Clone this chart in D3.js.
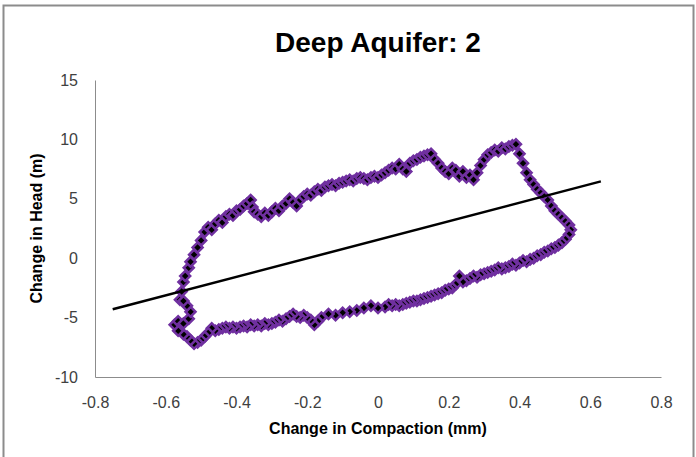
<!DOCTYPE html>
<html>
<head>
<meta charset="utf-8">
<script src="https://cdn.jsdelivr.net/npm/d3@7"></script>
<style>
  body { margin: 0; background: #fff; }
  text { font-family: "Liberation Sans", Arial, sans-serif; }
  .tick text { fill: #404040; font-size: 16px; }
  .axis-title { font-weight: bold; font-size: 16px; fill: #000; }
</style>
</head>
<body>
<svg id="chart"></svg>
<script>
const compaction = [
  -0.56, -0.555, -0.55, -0.545, -0.535, -0.53, -0.52, -0.51, -0.5, -0.49, -0.48, -0.47, -0.46, -0.45, -0.44,
  -0.43, -0.42, -0.41, -0.4, -0.39, -0.38, -0.37, -0.36, -0.355, -0.35, -0.34, -0.33, -0.32, -0.31, -0.3,
  -0.29, -0.28, -0.27, -0.26, -0.25, -0.24, -0.23, -0.22, -0.21, -0.2, -0.19, -0.18, -0.17, -0.16, -0.15,
  -0.14, -0.13, -0.12, -0.11, -0.1, -0.09, -0.08, -0.07, -0.06, -0.05, -0.04, -0.03, -0.02, -0.01, 0.0,
  0.01, 0.02, 0.03, 0.04, 0.05, 0.06, 0.07, 0.08, 0.09, 0.1, 0.11, 0.12, 0.13, 0.14, 0.15,
  0.16, 0.17, 0.18, 0.19, 0.2, 0.21, 0.22, 0.23, 0.24, 0.25, 0.26, 0.27, 0.28, 0.29, 0.3,
  0.31, 0.32, 0.33, 0.34, 0.35, 0.36, 0.37, 0.38, 0.39, 0.4, 0.41, 0.42, 0.43, 0.44, 0.45,
  0.46, 0.47, 0.48, 0.49, 0.5, 0.51, 0.52, 0.53, 0.54, 0.545, 0.54, 0.53,
  0.52, 0.51, 0.5, 0.49, 0.48, 0.47, 0.46, 0.45, 0.44, 0.43, 0.42, 0.41, 0.4, 0.39, 0.38,
  0.37, 0.36, 0.35, 0.34, 0.33, 0.32, 0.31, 0.3, 0.29, 0.28, 0.27, 0.26, 0.25, 0.24, 0.23,
  0.22, 0.21, 0.2, 0.19, 0.18, 0.17, 0.16, 0.15, 0.14, 0.13, 0.12, 0.11, 0.1, 0.09, 0.08,
  0.07, 0.06, 0.05, 0.04, 0.03, 0.02, 0.0, -0.02, -0.04, -0.06, -0.08, -0.1, -0.12, -0.14, -0.16,
  -0.17, -0.18, -0.19, -0.2, -0.21, -0.22, -0.23, -0.24, -0.25, -0.26, -0.27, -0.28, -0.29, -0.3, -0.31,
  -0.32, -0.33, -0.34, -0.35, -0.36, -0.37, -0.38, -0.39, -0.4, -0.41, -0.42, -0.43, -0.44, -0.45, -0.46,
  -0.47, -0.48, -0.49, -0.5, -0.51, -0.52, -0.53, -0.54, -0.55, -0.565, -0.575, -0.565, -0.55, -0.535, -0.53,
  -0.54, -0.55
];
const headChange = [
  -3.5, -2.8, -2.0, -1.5, -0.8, -0.3, 0.3, 0.9, 1.5, 2.2, 2.6, 2.4, 2.9, 3.2, 3.0,
  3.5, 3.7, 3.6, 4.0, 4.1, 4.4, 4.6, 4.9, 4.3, 3.9, 3.7, 3.5, 3.8, 3.6, 3.9,
  4.2, 4.0, 4.4, 4.6, 5.0, 4.7, 4.4, 4.9, 5.2, 5.4, 5.3, 5.6, 5.8, 5.7, 6.0,
  6.1, 6.2, 6.1, 6.3, 6.4, 6.5, 6.6, 6.5, 6.7, 6.8, 6.7, 6.6, 6.8, 6.9, 6.8,
  7.0, 7.2, 7.4, 7.6, 7.5, 7.9, 7.5, 7.3, 8.0, 8.2, 8.3, 8.5, 8.6, 8.7, 8.8,
  8.3, 8.0, 7.6, 7.3, 7.1, 7.6, 7.4, 6.9, 7.3, 6.8, 7.0, 6.6, 7.2, 7.8, 8.3,
  8.7, 8.9, 9.1, 9.0, 9.3, 9.2, 9.4, 9.5, 9.6, 8.8, 8.0, 7.2, 6.6, 6.2, 5.8,
  5.5, 5.2, 4.9, 4.4, 4.0, 3.7, 3.4, 3.1, 2.8, 2.4, 2.0, 1.6,
  1.3, 1.1, 0.9, 0.8, 0.6, 0.5, 0.3, 0.2, 0.0, -0.1, -0.3, -0.2, -0.4, -0.6, -0.5,
  -0.7, -0.8, -0.9, -0.8, -1.0, -1.1, -1.2, -1.3, -1.4, -1.6, -1.5, -1.7, -1.9, -2.0, -1.5,
  -2.2, -2.5, -2.6, -2.7, -2.9, -3.0, -3.1, -3.2, -3.3, -3.4, -3.5, -3.6, -3.6, -3.7, -3.8,
  -3.9, -4.0, -3.9, -4.0, -3.9, -4.1, -4.2, -4.0, -4.2, -4.4, -4.5, -4.6, -4.8, -4.7, -5.0,
  -5.3, -5.6, -5.2, -5.0, -4.8, -5.0, -4.9, -4.7, -4.9, -5.1, -5.3, -5.2, -5.4, -5.5, -5.6,
  -5.5, -5.7, -5.6, -5.7, -5.6, -5.8, -5.7, -5.8, -5.9, -5.8, -5.9, -5.8, -5.9, -6.0, -6.1,
  -5.9, -6.3, -6.6, -6.9, -7.1, -7.2, -6.9, -6.6, -6.4, -6.1, -5.6, -5.3, -5.5, -5.1, -4.5,
  -4.0, -3.6
];

// linear trendline
const trendSlope = 7.8;
const trendIntercept = 1.55;
const trendRange = [-0.75, 0.63];

const xTicks = [-0.8, -0.6, -0.4, -0.2, 0, 0.2, 0.4, 0.6, 0.8];
const yTicks = [-10, -5, 0, 5, 10, 15];

const chartTitle = "Deep Aquifer: 2";
const xTitle = "Change in Compaction (mm)";
const yTitle = "Change in Head (m)";

const W = 696, H = 457;
const margin = {top: 80, right: 35, bottom: 80, left: 95};
const width = W - margin.left - margin.right;
const height = H - margin.top - margin.bottom;

const svg = d3.select('#chart').attr('width', W).attr('height', H);

// outer frame
svg.append('rect')
    .attr('x', 3.5).attr('y', 5.5)
    .attr('width', 690).attr('height', 470)
    .attr('fill', 'none')
    .attr('stroke', '#8c8c8c')
    .attr('stroke-width', 2);

const chart = svg.append('g')
    .attr('transform', `translate(${margin.left},${margin.top})`);

const xScale = d3.scaleLinear().domain([-0.8, 0.8]).range([0, width]);
const yScale = d3.scaleLinear().domain([-10, 15]).range([height, 0]);

// excel style labels: plain hyphen for negatives
const fmtX = d => d === 0 ? '0' : d.toFixed(1);

const xAxis = d3.axisBottom(xScale)
    .tickValues(xTicks)
    .tickSize(0)
    .tickPadding(20)
    .tickFormat(fmtX);

const yAxis = d3.axisLeft(yScale)
    .tickValues(yTicks)
    .tickSize(0)
    .tickPadding(17)
    .tickFormat(d => String(d));

chart.append('g')
    .attr('class', 'axis x-axis')
    .attr('transform', `translate(0,${height})`)
    .call(xAxis)
    .call(g => g.select('.domain').attr('stroke', '#8c8c8c'));

chart.append('g')
    .attr('class', 'axis y-axis')
    .call(yAxis)
    .call(g => g.select('.domain').attr('stroke', '#8c8c8c'));

const points = compaction.map((c, i) => ({x: c, y: headChange[i]}));

// series line
chart.append('path')
    .datum(points)
    .attr('fill', 'none')
    .attr('stroke', '#7030a0')
    .attr('stroke-width', 3)
    .attr('d', d3.line().x(d => xScale(d.x)).y(d => yScale(d.y)));

// diamond markers
const diamond = d3.symbol().type(d3.symbolSquare).size(50);
chart.selectAll('.point')
    .data(points)
  .join('path')
    .attr('class', 'point')
    .attr('d', diamond)
    .attr('transform', d => `translate(${xScale(d.x)},${yScale(d.y)}) rotate(45)`)
    .attr('fill', '#000')
    .attr('stroke', '#7030a0')
    .attr('stroke-width', 2.5);

// trendline
chart.append('line')
    .attr('x1', xScale(trendRange[0]))
    .attr('y1', yScale(trendIntercept + trendSlope * trendRange[0]))
    .attr('x2', xScale(trendRange[1]))
    .attr('y2', yScale(trendIntercept + trendSlope * trendRange[1]))
    .attr('stroke', '#000')
    .attr('stroke-width', 2.5);

// titles
svg.append('text')
    .attr('x', margin.left + width / 2)
    .attr('y', 52)
    .attr('text-anchor', 'middle')
    .style('font-weight', 'bold')
    .style('font-size', '28px')
    .text(chartTitle);

svg.append('text')
    .attr('class', 'axis-title')
    .attr('x', margin.left + width / 2)
    .attr('y', 434)
    .attr('text-anchor', 'middle')
    .text(xTitle);

svg.append('text')
    .attr('class', 'axis-title')
    .attr('transform', `translate(42,${margin.top + height / 2}) rotate(-90)`)
    .attr('text-anchor', 'middle')
    .text(yTitle);
</script>
</body>
</html>
